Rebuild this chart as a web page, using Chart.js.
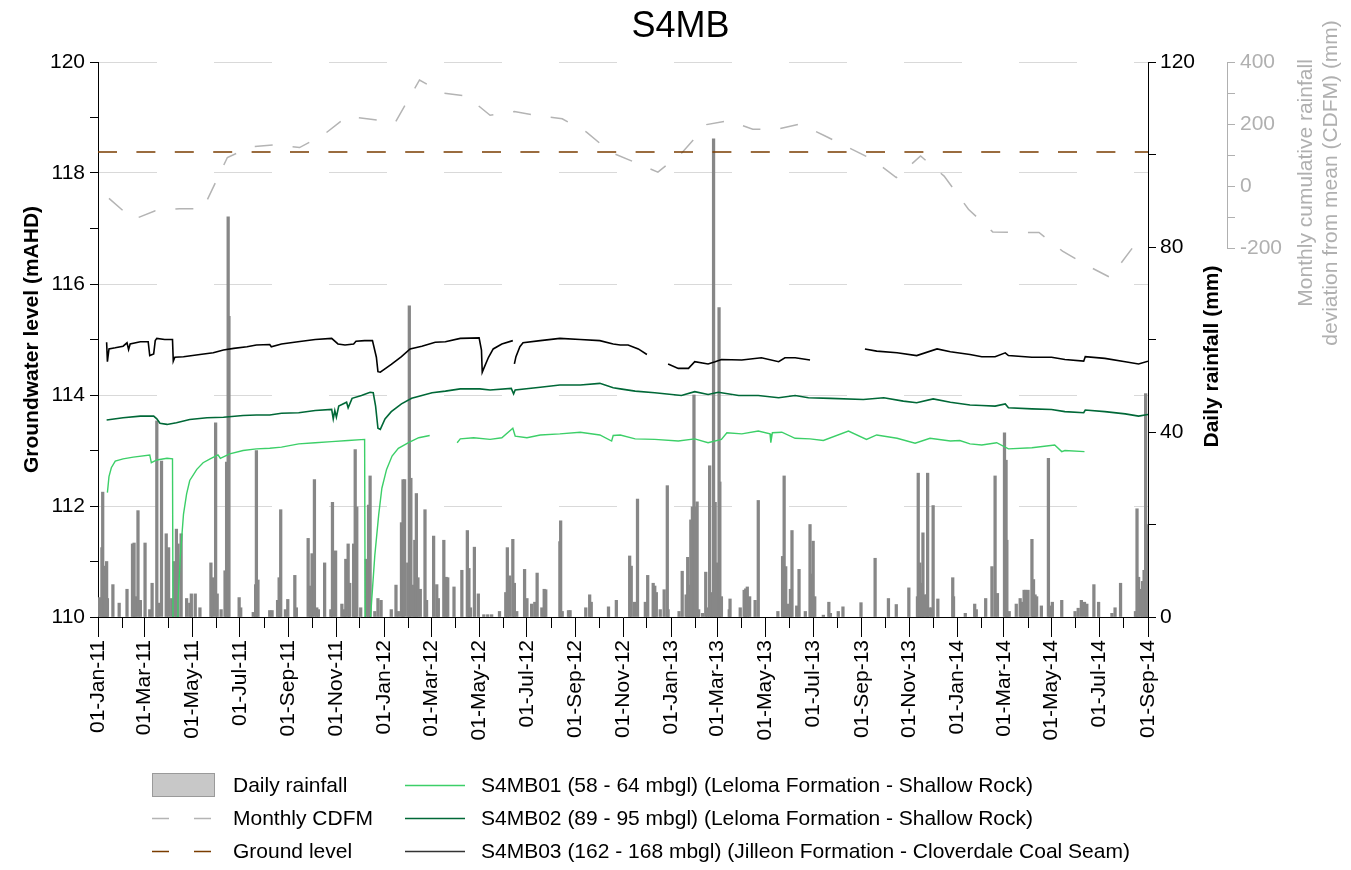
<!DOCTYPE html>
<html>
<head>
<meta charset="utf-8">
<script src="https://cdn.jsdelivr.net/npm/chart.js@4/dist/chart.umd.min.js"></script>
<style>
html,body{margin:0;padding:0;background:#fff;}
#wrap{position:relative;width:1351px;height:870px;}
#legend{position:absolute;left:0;top:0;width:1351px;height:870px;pointer-events:none;font-family:"Liberation Sans",Arial,Helvetica,sans-serif;font-size:21px;color:#000;}
.lt{position:absolute;height:26px;line-height:26px;white-space:nowrap;}
.ls{position:absolute;}
</style>
</head>
<body>
<div id="wrap"><canvas id="c" width="1351" height="870"></canvas><div id="legend"></div></div>
<script>
// ---------------- DATA ----------------
const chartTitle = 'S4MB';
const xTickLabels = ['01-Jan-11','01-Mar-11','01-May-11','01-Jul-11','01-Sep-11','01-Nov-11',
  '01-Jan-12','01-Mar-12','01-May-12','01-Jul-12','01-Sep-12','01-Nov-12',
  '01-Jan-13','01-Mar-13','01-May-13','01-Jul-13','01-Sep-13','01-Nov-13',
  '01-Jan-14','01-Mar-14','01-May-14','01-Jul-14','01-Sep-14'];
const seriesLabels = ['Daily rainfall','Monthly CDFM','Ground level',
  'S4MB01 (58 - 64 mbgl) (Leloma Formation - Shallow Rock)',
  'S4MB02 (89 - 95 mbgl) (Leloma Formation - Shallow Rock)',
  'S4MB03 (162 - 168 mbgl) (Jilleon Formation - Cloverdale Coal Seam)'];
const leftAxisTitle = 'Groundwater level (mAHD)';
const rainAxisTitle = 'Daily rainfall (mm)';
const cdfmAxisTitle = ['Monthly cumulative rainfall', 'deviation from mean (CDFM) (mm)'];

// Daily rainfall: day number counted from 01-Jan-2011, and rainfall in mm
const rainDay = [2,5,6,8,9,11,12,19,27,37,44,46,48,51,54,60,66,69,75,77,81,87,90,94,97,100,102,106,113,117,119,124,130,144,146,150,152,157,162,164,166,167,180,182,198,201,202,204,
219,222,229,231,233,239,242,251,253,268,271,273,276,279,281,289,297,299,303,311,314,316,319,321,326,328,330,335,342,345,347,353,357,361,374,380,383,387,389,391,395,397,399,402,404,406,408,411,417,419,428,432,434,441,
444,446,454,464,471,473,475,480,485,492,497,502,512,520,522,525,529,531,534,544,547,553,557,560,566,569,571,589,590,592,600,602,622,627,629,651,661,
678,680,684,688,698,701,708,710,712,717,722,726,727,741,745,750,752,754,756,758,760,761,764,766,771,775,777,780,782,783,785,787,789,792,793,795,805,806,819,824,826,828,831,838,842,867,873,875,877,880,883,885,
891,894,902,908,909,912,914,925,932,934,944,950,973,991,1008,1018,1034,1045,1046,1048,1050,1052,1054,1057,1058,1060,1063,1065,1071,1090,1091,1106,
1118,1120,1132,1140,1144,1147,1156,1158,1159,1162,1171,1176,1178,1181,1183,1186,1191,1193,1195,1197,1203,1212,1214,1217,1229,1246,1250,1254,1258,1261,1270,1276,1293,1297,1304,1323,1325,1327,1330,1332,1334,1336,1337,1338];
const rainMm = [4.2,15,27,11,6.6,12,4,7,3,6,15.8,16,4.4,23,3.6,16,1.6,7.3,42.4,3,33.7,18,15,4,12,19,15.8,18,4,3,5,5,2,11.7,8.5,42,5,1.6,10,33.5,86.5,65,4.2,2,1,7,36,8,
1.4,1.4,3.6,8.5,23.2,1.6,3.8,9,2,17,6.7,13.7,29.7,2,1.6,11.7,1.6,24.8,14.3,2.8,1.6,12.5,15.8,7.3,15.8,36.2,23.8,2,12.5,24.2,30.5,1.2,4,3.6,1.6,6.9,1.2,20.4,29.7,29.7,11.7,67.3,30,6.9,16.6,26.7,8.5,6,23.2,3.6,17.5,7,4,16.6,
8.6,8.5,6.5,10.1,18.7,10.5,2,15.1,5,0.5,0.5,0.5,1.2,5.3,15,8.9,16.8,7.3,1.2,10.3,4,2.8,3.2,9.5,2,6,5.9,16.3,20.8,1.2,1.4,1.4,2,4.8,3.2,2.2,3.6,
13.2,11,3.2,25.5,3.2,9,7.3,6.7,5.3,1.6,5.9,28.4,1.6,1.2,9.9,4.8,12.9,6.9,21,23.8,48,23.8,24.9,1.6,0.8,9.7,2,32.7,5.3,4.8,103.4,24.8,11.7,66.9,29.2,4.4,1.6,3.9,2,5.8,6.1,6.5,4.4,3.6,25.2,1.2,13.1,30.5,10.9,2.8,6,18.7,
2.4,10.3,1.2,20,9.3,16.4,4.4,0.4,3.2,0.8,1.2,2.2,3.1,12.7,4,2.7,6.3,4.4,31.1,11.7,7.3,18.2,4.8,4.8,31.1,2,2,24.1,3.9,8.5,4.4,0.8,
2.8,1.6,4,10.9,30.5,5.1,39.8,33.9,16.6,1.2,2.8,4,3.2,5.8,5.8,5.8,16.8,8.1,4.8,4.4,2.4,34.3,2.4,3.2,3.6,1.2,1.9,3.6,3.2,2.8,7,3.2,0.8,2,7.3,1.2,23.4,8.6,6,7.7,10.1,48.3,20,3.6];

// Monthly CDFM (mm), plotted mid-month
const cdfmMonth = ['Jan-11','Feb-11','Mar-11','Apr-11','May-11','Jun-11','Jul-11','Aug-11','Sep-11','Oct-11','Nov-11','Dec-11',
  'Jan-12','Feb-12','Mar-12','Apr-12','May-12','Jun-12','Jul-12','Aug-12','Sep-12','Oct-12','Nov-12','Dec-12',
  'Jan-13','Feb-13','Mar-13','Apr-13','May-13','Jun-13','Jul-13','Aug-13','Sep-13','Oct-13','Nov-13','Dec-13',
  'Jan-14','Feb-14','Mar-14','Apr-14','May-14','Jun-14','Jul-14','Aug-14'];
const cdfmValue = [-40,-108,-80,-73,-73,92,126,133,124,164,225,215,
  205,342,300,290,228,240,227,217,174,110,77,45,
  108,198,211,183,183,200,163,124,85,27,97,32,
  -75,-148,-150,-150,-210,-256,-295,-190];

const groundLevel = 118.38;

// Groundwater levels (mAHD); day counted from 01-Jan-2011; null = gap in record
const s01Day = [12,14,17,22,32,45,66,68,75,88,95,96,101,102,105,109,113,117,126,134,143,153,156,168,185,202,219,234,256,277,298,319,340,341,349,353,358,362,368,375,383,396,409,423,440,458,462,479,500,515,529,532,547,564,589,615,640,655,657,666,685,710,740,761,778,795,802,821,842,857,858,860,872,889,908,925,957,980,993,1019,1042,1061,1087,1099,1112,1127,1146,1161,1191,1220,1229,1233,1258];
const s01Level = [112.24,112.53,112.69,112.81,112.85,112.88,112.92,112.78,112.83,112.86,112.85,108.6,110.0,110.3,111.1,111.85,112.22,112.46,112.66,112.78,112.85,112.92,112.86,112.94,113.0,113.03,113.04,113.06,113.12,113.14,113.16,113.18,113.2,108.6,110.3,111.11,111.85,112.32,112.66,112.9,113.04,113.14,113.23,113.27,null,113.14,113.21,113.23,113.2,113.23,113.4,113.26,113.23,113.28,113.3,113.33,113.28,113.17,113.27,113.28,113.21,113.2,113.17,113.21,113.14,113.2,113.32,113.3,113.35,113.3,113.14,113.32,113.33,113.22,113.21,113.18,113.35,113.2,113.28,113.22,113.13,113.22,113.17,113.18,113.12,113.1,113.14,113.03,113.05,113.1,112.98,113.0,112.98];

const s02Day = [11,32,54,71,75,79,88,100,117,139,160,185,202,219,234,256,277,298,300,302,304,307,317,319,324,336,347,351,354,357,360,366,374,387,400,413,426,443,462,487,500,527,530,532,564,589,615,640,657,666,685,710,744,761,778,791,817,842,868,889,906,934,976,1002,1027,1044,1065,1087,1112,1127,1144,1157,1161,1191,1216,1233,1257,1259,1284,1310,1327,1339];
const s02Level = [113.55,113.59,113.62,113.62,113.57,113.49,113.47,113.5,113.56,113.59,113.6,113.63,113.64,113.64,113.67,113.68,113.72,113.74,113.57,113.72,113.6,113.8,113.87,113.77,113.94,113.99,114.05,114.04,113.8,113.4,113.38,113.57,113.7,113.84,113.94,113.99,114.04,114.07,114.11,114.11,114.09,114.12,114.02,114.09,114.14,114.18,114.18,114.21,114.13,114.11,114.07,114.04,113.99,114.06,114.01,114.05,113.99,113.99,113.95,113.99,113.95,113.94,113.92,113.95,113.89,113.86,113.93,113.87,113.82,113.81,113.8,113.84,113.77,113.75,113.74,113.7,113.68,113.73,113.7,113.66,113.62,113.65];

const s03Day = [11,12,14,22,32,37,39,41,54,64,66,71,73,75,85,95,96,98,109,130,147,160,173,190,202,219,221,234,255,277,298,306,315,326,329,340,350,355,357,360,374,387,398,413,430,443,462,486,489,490,492,498,504,515,529,530,531,533,538,542,564,589,615,640,657,666,676,689,700,710,727,740,753,761,778,787,795,821,846,868,876,889,908,940,978,993,1019,1044,1070,1087,1112,1127,1144,1157,1161,1191,1216,1233,1257,1259,1284,1310,1327,1339];
const s03Level = [114.95,114.6,114.83,114.85,114.88,114.94,114.82,114.92,114.96,114.96,114.71,114.74,114.98,115.02,115.0,115.0,114.61,114.68,114.69,114.73,114.76,114.81,114.84,114.87,114.9,114.91,114.87,114.92,114.96,115.0,115.02,114.92,114.9,114.92,114.97,114.98,114.98,114.68,114.42,114.41,114.55,114.69,114.83,114.88,114.95,114.96,115.02,115.03,114.81,114.41,114.48,114.68,114.83,114.92,114.98,null,114.56,114.69,114.87,114.94,114.98,115.02,115.0,114.98,114.92,114.9,114.9,114.83,114.73,null,114.56,114.48,114.48,114.6,114.56,114.6,114.64,114.63,114.67,114.6,114.67,114.67,114.63,null,114.83,114.79,114.76,114.71,114.83,114.78,114.73,114.69,114.69,114.76,114.71,114.68,114.68,114.64,114.61,114.69,114.66,114.6,114.56,114.61];

// ---------------- HELPERS ----------------
const FONT = '"Liberation Sans", Arial, Helvetica, sans-serif';
const MONTHS = ['Jan','Feb','Mar','Apr','May','Jun','Jul','Aug','Sep','Oct','Nov','Dec'];
const BASE = Date.UTC(2011, 0, 1);
const dayOf = (y, m, d) => Math.round((Date.UTC(y, m, d) - BASE) / 864e5);
const majorDays = xTickLabels.map(s => { const p = s.split('-'); return dayOf(2000 + +p[2], MONTHS.indexOf(p[1]), +p[0]); });
const minorDays = xTickLabels.slice(0, -1).map(s => { const p = s.split('-'); return dayOf(2000 + +p[2], MONTHS.indexOf(p[1]) + 1, 1); });
const xMax = majorDays[majorDays.length - 1];
const cdfmDay = cdfmMonth.map(s => { const p = s.split('-'); return dayOf(2000 + +p[1], MONTHS.indexOf(p[0]), 15); });
const pts = (xs, ys) => xs.map((x, i) => ({x: x, y: ys[i]}));

const COL = {
  rain: '#878787', rainLegend: '#c8c8c8', cdfm: '#b4b4b4', ground: '#7a3c00',
  s01: '#3ccf68', s02: '#006837', s03: '#000000', grid: '#d9d9d9', cdfmAxis: '#b0b0b0'
};

Chart.defaults.font.family = FONT;
Chart.defaults.font.size = 21;
Chart.defaults.color = '#000';

const extras = {
  id: 'extras',
  afterDraw(chart) {
    const ctx = chart.ctx, yR = chart.scales.yR, yC = chart.scales.yC, ca = chart.chartArea;
    ctx.save();
    // CDFM axis line only over its labelled range
    ctx.strokeStyle = COL.cdfmAxis; ctx.lineWidth = 1;
    const xl = Math.round(yC.left) + 0.5;
    ctx.beginPath();
    ctx.moveTo(xl, yC.getPixelForValue(400));
    ctx.lineTo(xl, yC.getPixelForValue(-200));
    ctx.stroke();
    // right axis titles (read bottom-to-top)
    ctx.textAlign = 'center'; ctx.textBaseline = 'middle';
    ctx.save();
    ctx.translate(yR.left + 64, (ca.top + ca.bottom) / 2 + 17);
    ctx.rotate(-Math.PI / 2);
    ctx.fillStyle = '#000'; ctx.font = 'bold 21px ' + FONT;
    ctx.fillText(rainAxisTitle, 0, 0);
    ctx.restore();
    ctx.fillStyle = COL.cdfmAxis; ctx.font = '21px ' + FONT;
    cdfmAxisTitle.forEach((t, i) => {
      ctx.save();
      ctx.translate(yC.left + 79 + i * 25, yC.getPixelForValue(10));
      ctx.rotate(-Math.PI / 2);
      ctx.fillText(t, 0, 0);
      ctx.restore();
    });
    ctx.restore();
  }
};

new Chart(document.getElementById('c'), {
  type: 'line',
  data: {
    datasets: [
      { type: 'bar', label: seriesLabels[0], data: pts(rainDay, rainMm), xAxisID: 'x', yAxisID: 'yR',
        backgroundColor: COL.rain, borderWidth: 0, barThickness: 2.6, order: 10 },
      { label: seriesLabels[1], data: pts(cdfmDay, cdfmValue), xAxisID: 'x', yAxisID: 'yC',
        borderColor: COL.cdfm, borderWidth: 1.5, borderDash: [18, 20], pointRadius: 0, tension: 0, order: 6 },
      { label: seriesLabels[2], data: [{x: 0, y: groundLevel}, {x: xMax, y: groundLevel}], xAxisID: 'x', yAxisID: 'y',
        borderColor: COL.ground, borderWidth: 1.5, borderDash: [19, 19.4], pointRadius: 0, order: 5 },
      { label: seriesLabels[3], data: pts(s01Day, s01Level), xAxisID: 'x', yAxisID: 'y',
        borderColor: COL.s01, borderWidth: 1.4, pointRadius: 0, tension: 0, order: 3 },
      { label: seriesLabels[4], data: pts(s02Day, s02Level), xAxisID: 'x', yAxisID: 'y',
        borderColor: COL.s02, borderWidth: 1.6, pointRadius: 0, tension: 0, order: 2 },
      { label: seriesLabels[5], data: pts(s03Day, s03Level), xAxisID: 'x', yAxisID: 'y',
        borderColor: COL.s03, borderWidth: 1.6, pointRadius: 0, tension: 0, order: 1 }
    ]
  },
  options: {
    responsive: false, animation: false, devicePixelRatio: 1, events: [],
    layout: { padding: { left: 10, right: 0, top: 0, bottom: 123 } },
    plugins: {
      legend: { display: false }, tooltip: { enabled: false },
      title: { display: true, text: chartTitle, color: '#000', font: { size: 36, weight: 'normal' },
               padding: { top: 5, bottom: 13.8 } }
    },
    scales: {
      x: {
        type: 'linear', position: 'bottom', min: 0, max: xMax, offset: false,
        afterBuildTicks: s => { s.ticks = majorDays.map(v => ({ value: v })); },
        afterFit: s => { s.height = 130; },
        ticks: { autoSkip: false, minRotation: 90, maxRotation: 90, padding: 3, color: '#000',
                 callback: (v, i) => xTickLabels[i] },
        grid: { offset: false, drawOnChartArea: false, drawTicks: true, tickLength: 20, tickColor: '#000', tickWidth: 1 },
        border: { display: true, color: '#000', width: 1 }
      },
      xm: {
        type: 'linear', position: { y: 110 }, min: 0, max: xMax, display: true, offset: false,
        afterBuildTicks: s => { s.ticks = minorDays.map(v => ({ value: v })); },
        ticks: { display: false },
        grid: { offset: false, drawOnChartArea: false, drawTicks: true, tickLength: 11, tickColor: '#000', tickWidth: 1 },
        border: { display: false }
      },
      y: {
        type: 'linear', position: 'left', min: 110, max: 120, weight: 0,
        afterFit: s => { s.width = 88; },
        ticks: { stepSize: 1, padding: 5, color: '#000', callback: v => (v % 2 === 0 ? v : '') },
        grid: {
          color: c => (c.tick && c.tick.value % 2 === 0 && c.tick.value > 110) ? COL.grid : 'rgba(0,0,0,0)',
          tickColor: '#000', tickLength: 8, lineWidth: 1
        },
        border: { display: true, color: '#000', width: 1, dash: [58, 57] },
        title: { display: true, text: leftAxisTitle, color: '#000', font: { size: 21, weight: 'bold' },
                 padding: { top: 10, bottom: 0 } }
      },
      yR: {
        type: 'linear', position: 'right', min: 0, max: 120, weight: 1,
        afterFit: s => { s.width = 79; },
        ticks: { stepSize: 20, padding: 4, color: '#000', callback: v => (v % 40 === 0 ? v : '') },
        grid: { drawOnChartArea: false, tickColor: '#000', tickLength: 8 },
        border: { display: true, color: '#000', width: 1 }
      },
      yC: {
        type: 'linear', position: 'right', min: -1390, max: 400, weight: 2,
        afterFit: s => { s.width = 124; },
        afterBuildTicks: s => { s.ticks = [-200, -100, 0, 100, 200, 300, 400].map(v => ({ value: v })); },
        ticks: { padding: 5, color: COL.cdfmAxis, callback: v => (v % 200 === 0 ? v : '') },
        grid: { drawOnChartArea: false, tickColor: COL.cdfmAxis, tickLength: 8 },
        border: { display: false }
      }
    }
  },
  plugins: [extras]
});

// ---------------- HTML LEGEND (2 columns x 3 rows) ----------------
(function () {
  const lg = document.getElementById('legend');
  const kinds = ['box', 'dash', 'dash', 'line', 'line', 'line'];
  const colors = [COL.rainLegend, COL.cdfm, COL.ground, COL.s01, COL.s02, '#333'];
  const sampleX = [152, 405], textX = [233, 481];
  const NS = 'http://www.w3.org/2000/svg';
  seriesLabels.forEach((lab, i) => {
    const col = i < 3 ? 0 : 1, row = i % 3, cy = 785 + row * 33;
    const w = col === 0 ? 63 : 60;
    const svg = document.createElementNS(NS, 'svg');
    svg.setAttribute('width', w); svg.setAttribute('height', 26);
    svg.setAttribute('class', 'ls');
    svg.style.left = sampleX[col] + 'px'; svg.style.top = (cy - 13) + 'px';
    if (kinds[i] === 'box') {
      const r = document.createElementNS(NS, 'rect');
      r.setAttribute('x', 0.5); r.setAttribute('y', 1.5); r.setAttribute('width', w - 1); r.setAttribute('height', 23);
      r.setAttribute('fill', colors[i]); r.setAttribute('stroke', '#9a9a9a'); r.setAttribute('stroke-width', 1);
      svg.appendChild(r);
    } else {
      const l = document.createElementNS(NS, 'line');
      l.setAttribute('x1', 0); l.setAttribute('x2', w); l.setAttribute('y1', 13.5); l.setAttribute('y2', 13.5);
      l.setAttribute('stroke', colors[i]); l.setAttribute('stroke-width', 1.5);
      if (kinds[i] === 'dash') l.setAttribute('stroke-dasharray', '17 25');
      svg.appendChild(l);
    }
    lg.appendChild(svg);
    const t = document.createElement('div');
    t.className = 'lt'; t.textContent = lab;
    t.style.left = textX[col] + 'px'; t.style.top = (cy - 13) + 'px';
    lg.appendChild(t);
  });
})();
</script>
</body>
</html>
